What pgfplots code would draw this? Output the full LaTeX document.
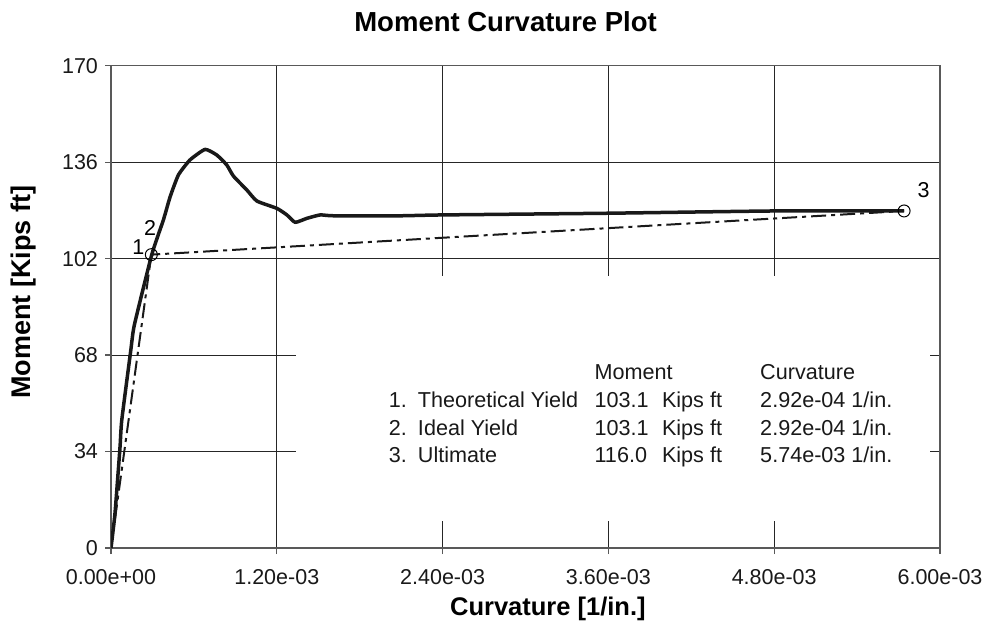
\documentclass[border=0pt]{standalone}
\usepackage{pgfplots}
\pgfplotsset{compat=1.18}
\usepackage{fontspec}
\setmainfont{Liberation Sans}
\begin{document}
\begin{tikzpicture}
\begin{axis}[
  name=ax,
  scale only axis,
  width=414.5pt, height=241.15pt,
  xmin=0, xmax=0.006, ymin=0, ymax=170,
  xtick={0,0.0012,0.0024,0.0036,0.0048,0.006},
  xticklabels={0.00e+00,1.20e-03,2.40e-03,3.60e-03,4.80e-03,6.00e-03},
  scaled x ticks=false,
  ytick={0,34,68,102,136,170},
  tick pos=left,
  tick align=outside,
  major tick length=3pt,
  grid=major,
  grid style={black!85, line width=0.5pt},
  axis line style={black!65, line width=0.8pt},
  tick style={black!65, line width=0.6pt},
  /pgf/number format/assume math mode=true,
  ticklabel style={font=\fontsize{10.75}{12}\selectfont, text=black!90},
  xticklabel style={yshift=-4pt},
  title={Moment Curvature Plot},
  title style={font=\bfseries\fontsize{13.75}{16}\selectfont, at={(axis description cs:0.476,1)}, anchor=center, yshift=15.9pt},
  xlabel={Curvature [1/in.]},
  ylabel={Moment [Kips ft]},
  xlabel style={font=\bfseries\fontsize{12.75}{15}\selectfont, at={(axis description cs:0.527,0)}, anchor=center, yshift=-30.5pt},
  ylabel style={font=\bfseries\fontsize{13.5}{16}\selectfont, at={(axis description cs:-0.105,0.53)}, anchor=center},
]
% white panel behind the summary table
\fill[white] (axis cs:0.00134,9.5) rectangle (axis cs:0.00593,95.9);

% moment-curvature response
\addplot[black!90, line width=1.75pt, line join=round, smooth, tension=0.3] coordinates {
(0,0) (0.000029,12.3) (0.000065,35.4) (0.000078,45.1) (0.000143,69.6) (0.000169,78.6)
(0.000295,103.4) (0.000379,115.6) (0.000428,123.8) (0.000488,131.5) (0.000572,136.8)
(0.000681,140.5) (0.000766,138.5) (0.000838,135.0) (0.000886,131.1) (0.000983,126.2)
(0.001056,122.3) (0.001201,119.7) (0.001273,117.4) (0.001333,114.8) (0.001418,116.2)
(0.001514,117.4) (0.001611,117.1) (0.002094,117.1) (0.0024,117.4) (0.0036,118.0)
(0.0048,118.8) (0.00574,118.8)
};

% idealized bilinear
\addplot[black!90, line width=1pt, dash pattern=on 7.5pt off 2.5pt on 2pt off 2.5pt] coordinates {
(0,0) (0.000292,103.4) (0.00574,118.8)
};

% marked points
\addplot[only marks, mark=o, mark size=3pt, mark options={line width=0.5pt, black}] coordinates {
(0.000292,103.4) (0.00574,118.8)
};

\node[font=\fontsize{10.75}{12}\selectfont] at (axis cs:0.000198,106.2) {1};
\node[font=\fontsize{10.75}{12}\selectfont] at (axis cs:0.000283,112.7) {2};
\node[font=\fontsize{10.75}{12}\selectfont] at (axis cs:0.005882,126.2) {3};

% summary table
\begin{scope}[every node/.style={anchor=base west, inner sep=0pt, font=\fontsize{10.8}{12}\selectfont, text=black!90}]
\node at (axis cs:0.003497,59.36) {Moment};
\node at (axis cs:0.004696,59.36) {Curvature};
\node at (axis cs:0.002009,49.6) {1.};
\node at (axis cs:0.002219,49.6) {Theoretical Yield};
\node at (axis cs:0.003497,49.6) {103.1};
\node at (axis cs:0.003985,49.6) {Kips ft};
\node at (axis cs:0.004696,49.6) {2.92e-04 1/in.};
\node at (axis cs:0.002009,39.83) {2.};
\node at (axis cs:0.002219,39.83) {Ideal Yield};
\node at (axis cs:0.003497,39.83) {103.1};
\node at (axis cs:0.003985,39.83) {Kips ft};
\node at (axis cs:0.004696,39.83) {2.92e-04 1/in.};
\node at (axis cs:0.002009,30.07) {3.};
\node at (axis cs:0.002219,30.07) {Ultimate};
\node at (axis cs:0.003497,30.07) {116.0};
\node at (axis cs:0.003985,30.07) {Kips ft};
\node at (axis cs:0.004696,30.07) {5.74e-03 1/in.};
\end{scope}
\end{axis}
\pgfresetboundingbox
\path[use as bounding box] ([shift={(-55.5pt,-41.5pt)}]ax.south west) rectangle ([shift={(25.5pt,32.85pt)}]ax.north east);
\end{tikzpicture}
\end{document}
